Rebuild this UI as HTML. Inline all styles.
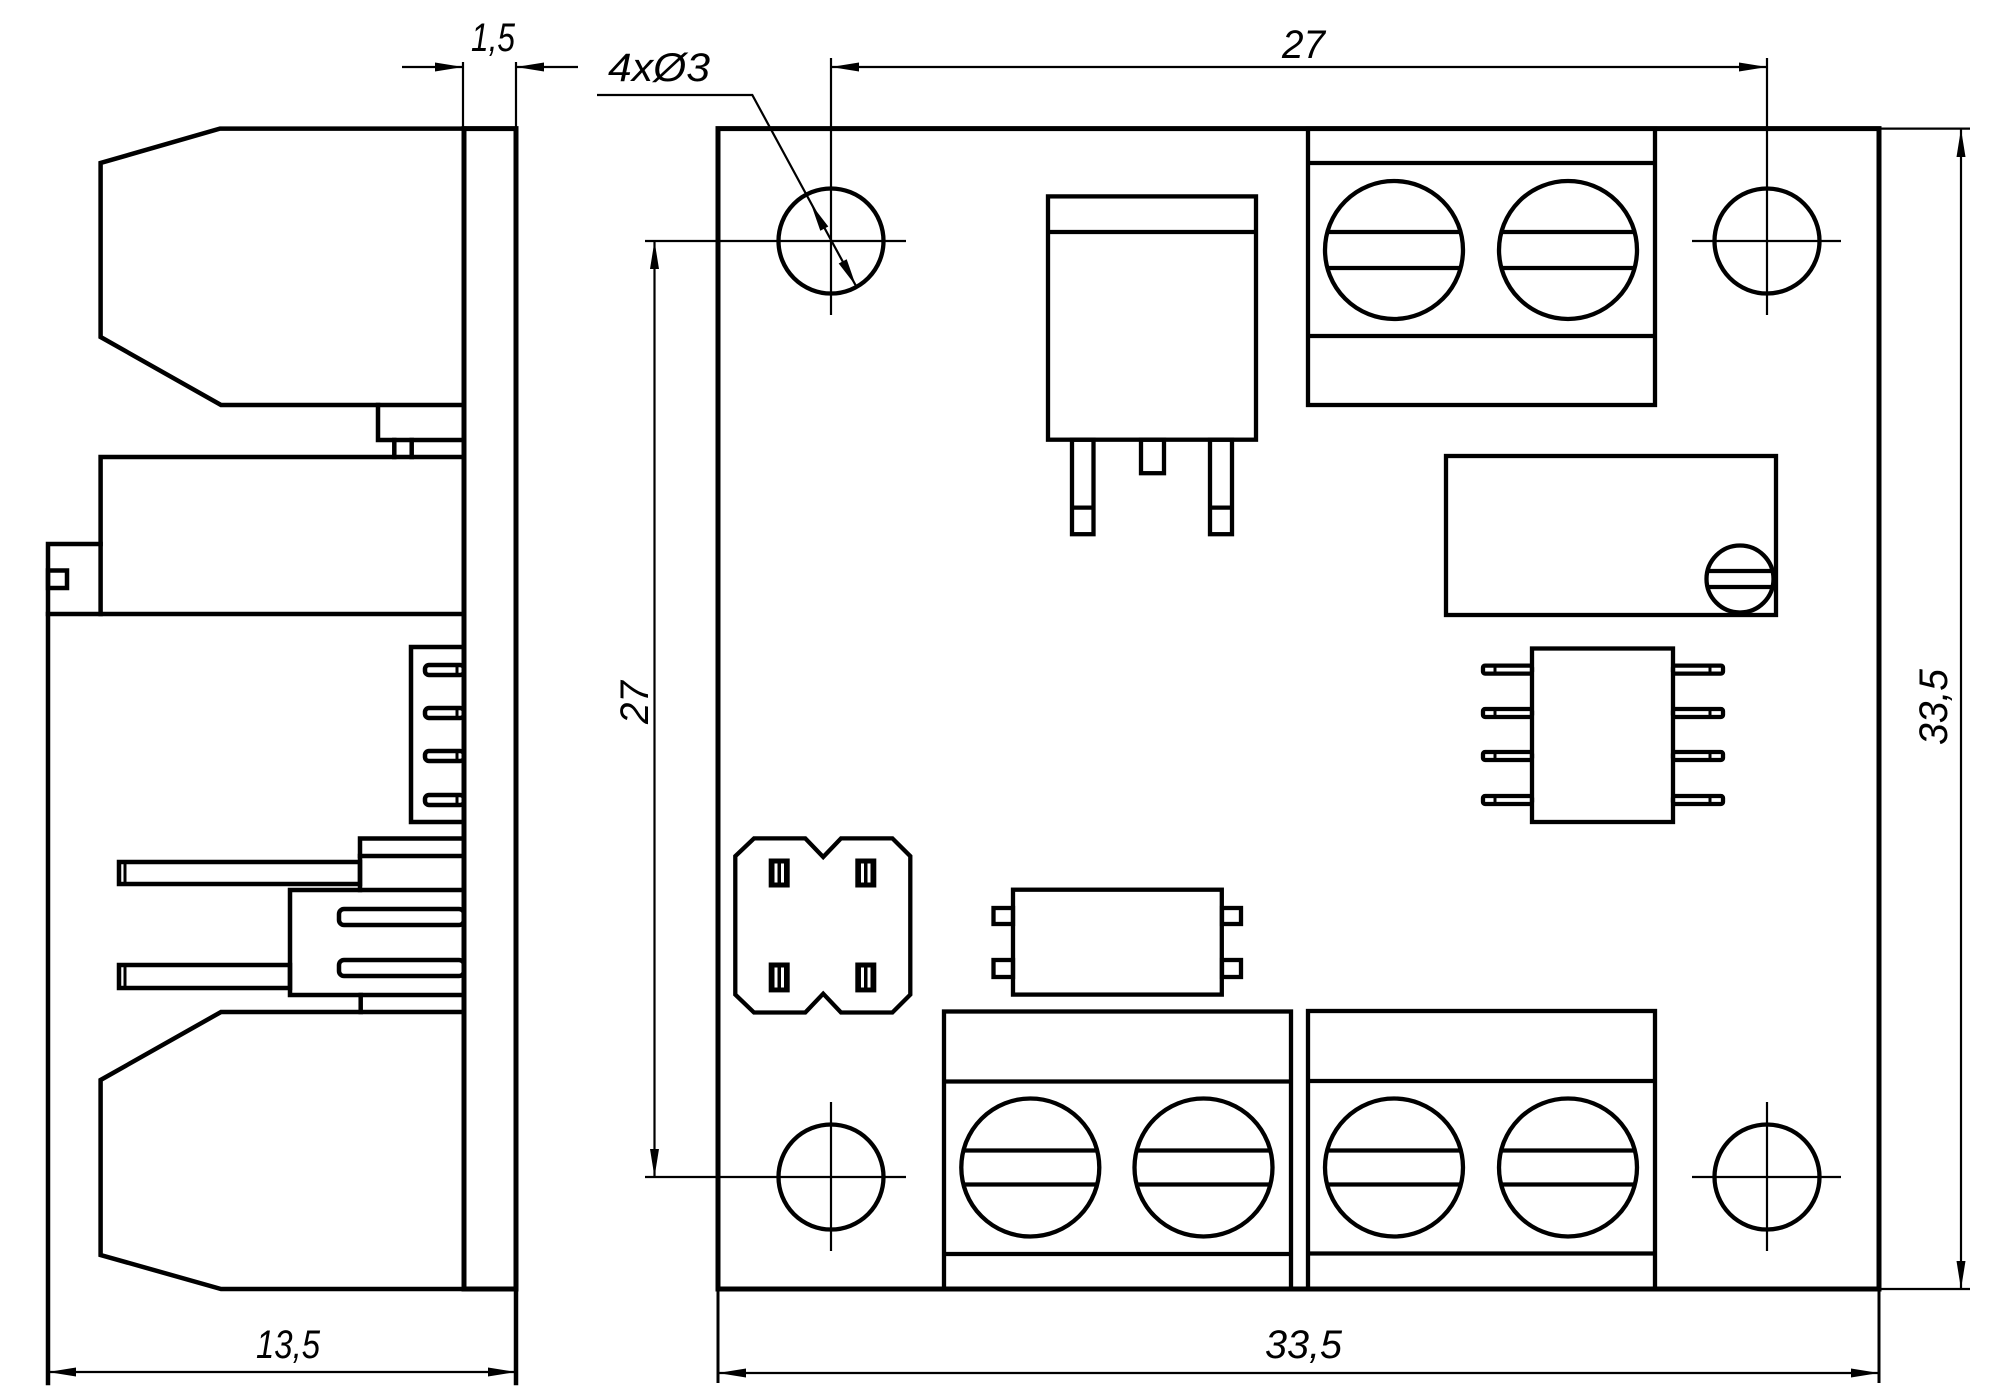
<!DOCTYPE html>
<html>
<head>
<meta charset="utf-8">
<style>
html,body{margin:0;padding:0;background:#fff;}
svg{display:block;}
text{font-family:"Liberation Sans","DejaVu Sans",sans-serif;font-style:italic;font-size:40px;fill:#000;}
</style>
</head>
<body>
<svg width="2004" height="1400" viewBox="0 0 2004 1400" xmlns="http://www.w3.org/2000/svg">
<rect x="0" y="0" width="2004" height="1400" fill="#fff"/>

<!-- ============ SIDE VIEW ============ -->
<g fill="none" stroke="#000" stroke-width="4.5" stroke-linejoin="miter" stroke-linecap="square">
  <!-- board -->
  <rect x="464" y="128.6" width="52" height="1160.4" stroke-width="5"/>
  <!-- top connector -->
  <polyline points="464,128.6 220,128.6 100.6,163 100.6,337 221,405 464,405"/>
  <polyline points="378,405 378,440 464,440"/>
  <line x1="394.3" y1="440" x2="394.3" y2="457"/>
  <line x1="411.7" y1="440" x2="411.7" y2="457"/>
  <!-- middle body -->
  <polyline points="464,457 100.6,457 100.6,614"/>
  <polyline points="100.6,544 48,544 48,1383"/>
  <rect x="48" y="570.5" width="19" height="17.5"/>
  <line x1="48" y1="614" x2="464" y2="614"/>
  <!-- header -->
  <polyline points="464,647 411,647 411,822 464,822"/>
  <rect x="425" y="665" width="39" height="10" rx="4"/>
  <rect x="425" y="708" width="39" height="10" rx="4"/>
  <rect x="425" y="751" width="39" height="10" rx="4"/>
  <rect x="425" y="795" width="39" height="10" rx="4"/>
  <line x1="457" y1="665" x2="457" y2="675" stroke-width="3"/>
  <line x1="457" y1="708" x2="457" y2="718" stroke-width="3"/>
  <line x1="457" y1="751" x2="457" y2="761" stroke-width="3"/>
  <line x1="457" y1="795" x2="457" y2="805" stroke-width="3"/>
  <!-- upper housing -->
  <polyline points="464,838.5 360,838.5 360,890"/>
  <line x1="360" y1="856" x2="464" y2="856"/>
  <rect x="119" y="862" width="241" height="22"/>
  <line x1="125" y1="862" x2="125" y2="884" stroke-width="3"/>
  <!-- lower housing -->
  <polyline points="464,890 290,890 290,995 464,995"/>
  <rect x="339" y="909" width="125" height="16" rx="5"/>
  <rect x="339" y="960" width="125" height="16" rx="5"/>
  <rect x="119" y="965" width="171" height="23"/>
  <line x1="125" y1="965" x2="125" y2="988" stroke-width="3"/>
  <line x1="360.7" y1="995" x2="360.7" y2="1012"/>
  <!-- bottom connector -->
  <polyline points="464,1012 221,1012 100.6,1080 100.6,1255 221,1289 516,1289"/>
  <line x1="516" y1="1289" x2="516" y2="1383"/>
</g>
<!-- side view dims -->
<g stroke="#000" stroke-width="2.2" fill="none">
  <line x1="463" y1="62" x2="463" y2="128"/>
  <line x1="516" y1="62" x2="516" y2="128"/>
  <line x1="402" y1="67" x2="463" y2="67"/>
  <line x1="516" y1="67" x2="578" y2="67"/>
  <line x1="48" y1="1372" x2="516" y2="1372"/>
</g>
<g fill="#000" stroke="none">
  <polygon points="463,67 435,62.5 435,71.5"/>
  <polygon points="516,67 544,62.5 544,71.5"/>
  <polygon points="48,1372 76,1367.5 76,1376.5"/>
  <polygon points="516,1372 488,1367.5 488,1376.5"/>
</g>
<text x="471" y="51" textLength="44" lengthAdjust="spacingAndGlyphs">1,5</text>
<text x="256" y="1358" textLength="64" lengthAdjust="spacingAndGlyphs">13,5</text>

<!-- ============ PLAN VIEW ============ -->
<g fill="none" stroke="#000" stroke-width="4.3">
  <rect x="718" y="128.6" width="1161" height="1160.4" stroke-width="5"/>
  <!-- holes -->
  <circle cx="831" cy="241" r="52.5"/>
  <circle cx="1767" cy="241" r="52.5"/>
  <circle cx="831" cy="1177" r="52.5"/>
  <circle cx="1767" cy="1177" r="52.5"/>
  <!-- DPAK -->
  <rect x="1048" y="196.4" width="208" height="243.3"/>
  <line x1="1048" y1="232" x2="1256" y2="232"/>
  <rect x="1072" y="439.7" width="21.5" height="94.5"/>
  <line x1="1072" y1="507.6" x2="1093.5" y2="507.6"/>
  <rect x="1210" y="439.7" width="22" height="94.5"/>
  <line x1="1210" y1="507.6" x2="1232" y2="507.6"/>
  <rect x="1141" y="439.7" width="23" height="33.5"/>
  <!-- top terminal block -->
  <rect x="1308" y="128.6" width="347" height="276.4"/>
  <line x1="1308" y1="163" x2="1655" y2="163"/>
  <line x1="1308" y1="336" x2="1655" y2="336"/>
  <circle cx="1394" cy="250" r="69"/>
  <circle cx="1568" cy="250" r="69"/>
  <line x1="1327.5" y1="232" x2="1460.5" y2="232"/>
  <line x1="1327.5" y1="268" x2="1460.5" y2="268"/>
  <line x1="1501.5" y1="232" x2="1634.5" y2="232"/>
  <line x1="1501.5" y1="268" x2="1634.5" y2="268"/>
  <!-- relay / trimmer -->
  <rect x="1446" y="456" width="330" height="159"/>
  <circle cx="1740" cy="579" r="33.5"/>
  <line x1="1707.5" y1="571" x2="1772.5" y2="571"/>
  <line x1="1707.5" y1="587" x2="1772.5" y2="587"/>
  <!-- SOIC -->
  <rect x="1532" y="648.5" width="141" height="173.5"/>
  <rect x="1483" y="665.6" width="49" height="8" rx="2"/>
  <rect x="1483" y="709" width="49" height="8" rx="2"/>
  <rect x="1483" y="752" width="49" height="8" rx="2"/>
  <rect x="1483" y="796" width="49" height="8" rx="2"/>
  <rect x="1673" y="665.6" width="50" height="8" rx="2"/>
  <rect x="1673" y="709" width="50" height="8" rx="2"/>
  <rect x="1673" y="752" width="50" height="8" rx="2"/>
  <rect x="1673" y="796" width="50" height="8" rx="2"/>
  <!-- jumper -->
  <polygon points="754,838.4 805.3,838.4 823.2,857 841,838.4 892.4,838.4 910.3,856.2 910.3,994.6 892.4,1012.5 841,1012.5 823.2,993.7 805.3,1012.5 754,1012.5 735.3,994.6 735.3,856.2"/>
  <!-- opto -->
  <rect x="1013" y="889.7" width="208.8" height="104.9"/>
  <rect x="993.5" y="908" width="19.5" height="16"/>
  <rect x="993.5" y="960" width="19.5" height="17"/>
  <rect x="1222" y="908" width="19" height="16"/>
  <rect x="1222" y="960" width="19" height="17"/>
  <!-- bottom terminal block 1 -->
  <rect x="944" y="1011.5" width="347" height="277.5"/>
  <line x1="944" y1="1081.5" x2="1291" y2="1081.5"/>
  <line x1="944" y1="1254" x2="1291" y2="1254"/>
  <circle cx="1030.3" cy="1167.5" r="69"/>
  <circle cx="1203.5" cy="1167.5" r="69"/>
  <line x1="963.6" y1="1150.5" x2="1097" y2="1150.5"/>
  <line x1="963.6" y1="1184.5" x2="1097" y2="1184.5"/>
  <line x1="1136.8" y1="1150.5" x2="1270.2" y2="1150.5"/>
  <line x1="1136.8" y1="1184.5" x2="1270.2" y2="1184.5"/>
  <!-- bottom terminal block 2 -->
  <rect x="1308" y="1011" width="347" height="278"/>
  <line x1="1308" y1="1081" x2="1655" y2="1081"/>
  <line x1="1308" y1="1253.5" x2="1655" y2="1253.5"/>
  <circle cx="1394" cy="1167.5" r="69"/>
  <circle cx="1568" cy="1167.5" r="69"/>
  <line x1="1327.3" y1="1150.5" x2="1460.7" y2="1150.5"/>
  <line x1="1327.3" y1="1184.5" x2="1460.7" y2="1184.5"/>
  <line x1="1501.3" y1="1150.5" x2="1634.7" y2="1150.5"/>
  <line x1="1501.3" y1="1184.5" x2="1634.7" y2="1184.5"/>
</g>
<!-- jumper pins -->
<g fill="#000">
  <rect x="768.7" y="858.5" width="21" height="29"/>
  <rect x="855.3" y="858.5" width="21" height="29"/>
  <rect x="768.7" y="962.5" width="21" height="29.9"/>
  <rect x="855.3" y="962.5" width="21" height="29.9"/>
</g>
<g fill="#fff">
  <rect x="774.5" y="863.5" width="3" height="19"/>
  <rect x="781" y="863.5" width="3" height="19"/>
  <rect x="861" y="863.5" width="3" height="19"/>
  <rect x="867.5" y="863.5" width="3" height="19"/>
  <rect x="774.5" y="967.5" width="3" height="20"/>
  <rect x="781" y="967.5" width="3" height="20"/>
  <rect x="861" y="967.5" width="3" height="20"/>
  <rect x="867.5" y="967.5" width="3" height="20"/>
</g>
<!-- SOIC pin inner ticks -->
<g stroke="#000" stroke-width="3">
  <line x1="1495" y1="665.6" x2="1495" y2="673.6"/>
  <line x1="1495" y1="709" x2="1495" y2="717"/>
  <line x1="1495" y1="752" x2="1495" y2="760"/>
  <line x1="1495" y1="796" x2="1495" y2="804"/>
  <line x1="1710" y1="665.6" x2="1710" y2="673.6"/>
  <line x1="1710" y1="709" x2="1710" y2="717"/>
  <line x1="1710" y1="752" x2="1710" y2="760"/>
  <line x1="1710" y1="796" x2="1710" y2="804"/>
</g>

<!-- plan view thin lines: center lines, dims, leader -->
<g stroke="#000" stroke-width="2.2" fill="none">
  <!-- hole center lines -->
  <line x1="645" y1="241" x2="906" y2="241"/>
  <line x1="831" y1="58" x2="831" y2="315"/>
  <line x1="1692" y1="241" x2="1841" y2="241"/>
  <line x1="1767" y1="58" x2="1767" y2="315"/>
  <line x1="645" y1="1177" x2="906" y2="1177"/>
  <line x1="831" y1="1102" x2="831" y2="1251"/>
  <line x1="1692" y1="1177" x2="1841" y2="1177"/>
  <line x1="1767" y1="1102" x2="1767" y2="1251"/>
  <!-- 27 top -->
  <line x1="831" y1="67" x2="1767" y2="67"/>
  <!-- 27 left -->
  <line x1="654.5" y1="241" x2="654.5" y2="1177"/>
  <!-- 33,5 right -->
  <line x1="1879" y1="128.6" x2="1970" y2="128.6"/>
  <line x1="1879" y1="1289" x2="1970" y2="1289"/>
  <line x1="1961" y1="128.6" x2="1961" y2="1289"/>
  <!-- 33,5 bottom -->
  <line x1="718" y1="1289" x2="718" y2="1383" stroke-width="3"/>
  <line x1="1879" y1="1289" x2="1879" y2="1383" stroke-width="3"/>
  <line x1="718" y1="1373" x2="1879" y2="1373"/>
  <!-- leader -->
  <polyline points="597,95 752.3,95 856,286"/>
</g>
<g fill="#000">
  <polygon points="831,67 859,62.5 859,71.5"/>
  <polygon points="1767,67 1739,62.5 1739,71.5"/>
  <polygon points="654.5,241 650,269 659,269"/>
  <polygon points="654.5,1177 650,1149 659,1149"/>
  <polygon points="1961,129 1956.5,157 1965.5,157"/>
  <polygon points="1961,1289 1956.5,1261 1965.5,1261"/>
  <polygon points="718,1373 746,1368.5 746,1377.5"/>
  <polygon points="1879,1373 1851,1368.5 1851,1377.5"/>
  <polygon points="811,204 820.3,230.7 828.3,226.5"/>
  <polygon points="856,286 838.7,263.5 846.7,259.3"/>
</g>

<!-- labels -->
<text x="608" y="81" textLength="102" lengthAdjust="spacingAndGlyphs">4xØ3</text>
<text x="1282" y="58" textLength="43" lengthAdjust="spacingAndGlyphs">27</text>
<text x="1265" y="1358" textLength="77" lengthAdjust="spacingAndGlyphs">33,5</text>
<text transform="translate(648,724) rotate(-90)" textLength="43" lengthAdjust="spacingAndGlyphs">27</text>
<text transform="translate(1947,745) rotate(-90)" textLength="76" lengthAdjust="spacingAndGlyphs">33,5</text>
</svg>
</body>
</html>
